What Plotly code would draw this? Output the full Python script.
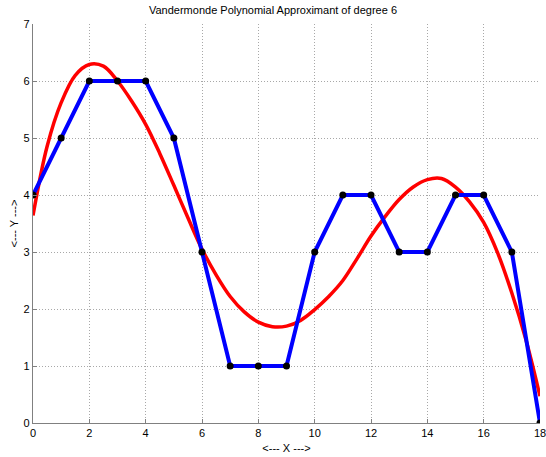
import plotly.graph_objects as go

# data points (blue polyline with black dots)
x_data = [0, 1, 2, 3, 4, 5, 6, 7, 8, 9, 10, 11, 12, 13, 14, 15, 16, 17, 18]
y_data = [4, 5, 6, 6, 6, 5, 3, 1, 1, 1, 3, 4, 4, 3, 3, 4, 4, 3, 0]

# degree-6 approximant, values
x_fit = [0, 0.5, 1, 1.5, 2, 2.5, 3, 3.5, 4, 4.5, 5, 5.5, 6, 6.5, 7, 7.5, 8,
         8.5, 9, 9.5, 10, 10.5, 11, 11.5, 12, 12.5, 13, 13.5, 14, 14.5, 15,
         15.5, 16, 16.5, 17, 17.5, 18]
y_fit = [3.64, 4.85, 5.62, 6.10, 6.29, 6.26, 6.0, 5.65, 5.24, 4.73, 4.17,
         3.6, 3.05, 2.60, 2.22, 1.95, 1.77, 1.69, 1.70, 1.80, 1.99, 2.22, 2.50,
         2.88, 3.28, 3.62, 3.92, 4.14, 4.27, 4.29, 4.14, 3.88, 3.52, 2.98, 2.28,
         1.46, 0.47]

title_text = "Vandermonde Polynomial Approximant of degree 6"
x_title = "<--- X --->"
y_title = "<--- Y --->"

fig = go.Figure()
fig.add_trace(go.Scatter(x=x_fit, y=y_fit, mode="lines",
                         line=dict(color="#ff0000", width=3.5, shape="spline"),
                         showlegend=False, hoverinfo="skip"))
fig.add_trace(go.Scatter(x=x_data, y=y_data, mode="lines",
                         line=dict(color="#0000ff", width=4),
                         showlegend=False))
fig.add_trace(go.Scatter(x=x_data, y=y_data, mode="markers",
                         marker=dict(color="black", size=7),
                         showlegend=False))

font = "Liberation Sans, Arial, sans-serif"
axis_common = dict(
    showline=True, linecolor="#808080", linewidth=1.2,
    showgrid=True, gridcolor="#a8a8a8", griddash="1px,2px", gridwidth=1,
    zeroline=False, ticks="inside", ticklen=4, tickcolor="#808080",
    tickfont=dict(size=11), automargin=False, ticklabeloverflow="allow",
)
fig.update_layout(
    width=546, height=457,
    margin=dict(l=32.5, r=6, t=23.5, b=33.5),
    paper_bgcolor="white", plot_bgcolor="white",
    font=dict(family=font, size=11, color="black"),
    title=dict(text=title_text, x=0.5, xanchor="center", y=0.978, yanchor="middle",
               font=dict(family=font, size=11, color="black")),
    xaxis=dict(range=[0, 18], tickvals=list(range(0, 19, 2)),
               title=dict(text=x_title, standoff=6, font=dict(size=11)),
               **axis_common),
    yaxis=dict(range=[0, 7], tickvals=list(range(0, 8)),
               title=dict(text=y_title, standoff=2, font=dict(size=11)),
               **axis_common),
)

fig.write_html("out.html", config={"displayModeBar": False},
               post_script="document.body.style.margin='0';document.body.style.overflow='hidden';")
